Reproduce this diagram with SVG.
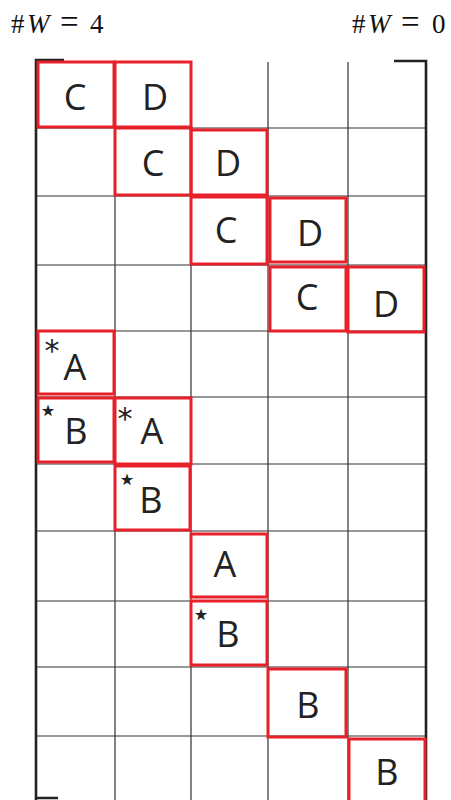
<svg xmlns="http://www.w3.org/2000/svg" width="451" height="800" viewBox="0 0 451 800">
<style>
.grid{stroke:#333;stroke-width:1.2;fill:none}
.border{stroke:#222;stroke-width:2.6;fill:none}
.box{stroke:#e8202a;stroke-width:3;fill:none}
.lbl{font-family:"Open Sans","Noto Sans",sans-serif;font-size:36px;fill:#222;text-anchor:middle}
.ast{font-family:"DejaVu Sans",sans-serif;font-size:30px;fill:#222;text-anchor:middle}
.star{font-family:"DejaVu Sans",sans-serif;font-size:32px;fill:#222;text-anchor:middle}
.hdr{font-family:"Liberation Serif",serif;font-size:27px;fill:#111}
</style>
<rect width="451" height="800" fill="#fff"/>
<text class="hdr" y="33"><tspan x="11">#</tspan><tspan x="27" font-style="italic">W</tspan><tspan x="60" font-size="33">=</tspan><tspan x="90">4</tspan></text>
<text class="hdr" y="33"><tspan x="352">#</tspan><tspan x="368" font-style="italic">W</tspan><tspan x="401" font-size="33">=</tspan><tspan x="432">0</tspan></text>
<g id="grid">
<path class="grid" d="M115 61V800M191 61V800M268 62V800M348 62V800"/>
<path class="grid" d="M36 128H426M36 196H426M36 265H426M36 331H426M36 397H426M36 464H426M36 531H426M36 601H426M36 667H426M36 736H426"/>
<path class="border" d="M64 60H36V800M36 798H58M394 61H426V800"/>
</g>
<g id="connectors"></g>
<g id="n1"><rect class="box" x="38" y="62" width="76" height="65"/><text class="lbl" x="75" y="110">C</text></g>
<g id="n2"><rect class="box" x="115" y="62" width="76" height="65"/><text class="lbl" x="155" y="110">D</text></g>
<g id="n3"><rect class="box" x="115" y="128" width="76" height="67"/><text class="lbl" x="153" y="176">C</text></g>
<g id="n4"><rect class="box" x="191" y="130" width="76" height="65"/><text class="lbl" x="228" y="176">D</text></g>
<g id="n5"><rect class="box" x="191" y="197" width="76" height="67"/><text class="lbl" x="226" y="243">C</text></g>
<g id="n6"><rect class="box" x="270" y="198" width="76" height="64"/><text class="lbl" x="310" y="246">D</text></g>
<g id="n7"><rect class="box" x="270" y="267" width="76" height="64"/><text class="lbl" x="307" y="310">C</text></g>
<g id="n8"><rect class="box" x="348" y="267" width="76" height="65"/><text class="lbl" x="386" y="317">D</text></g>
<g id="n9"><rect class="box" x="38" y="331" width="76" height="63"/><text class="ast" x="52" y="361">*</text><text class="lbl" x="75" y="380">A</text></g>
<g id="n10"><rect class="box" x="38" y="398" width="76" height="64"/><text class="star" x="48" y="421">⋆</text><text class="lbl" x="76" y="444">B</text></g>
<g id="n11"><rect class="box" x="115" y="398" width="76" height="66"/><text class="ast" x="125" y="429">*</text><text class="lbl" x="152" y="444">A</text></g>
<g id="n12"><rect class="box" x="115" y="466" width="75" height="64"/><text class="star" x="127" y="490">⋆</text><text class="lbl" x="151" y="513">B</text></g>
<g id="n13"><rect class="box" x="191" y="534" width="76" height="63"/><text class="lbl" x="225" y="577">A</text></g>
<g id="n14"><rect class="box" x="191" y="601" width="76" height="64"/><text class="star" x="201" y="625">⋆</text><text class="lbl" x="228" y="647">B</text></g>
<g id="n15"><rect class="box" x="268" y="669" width="78" height="68"/><text class="lbl" x="308" y="718">B</text></g>
<g id="n16"><rect class="box" x="349" y="739" width="76" height="64"/><text class="lbl" x="387" y="785">B</text></g>
</svg>
